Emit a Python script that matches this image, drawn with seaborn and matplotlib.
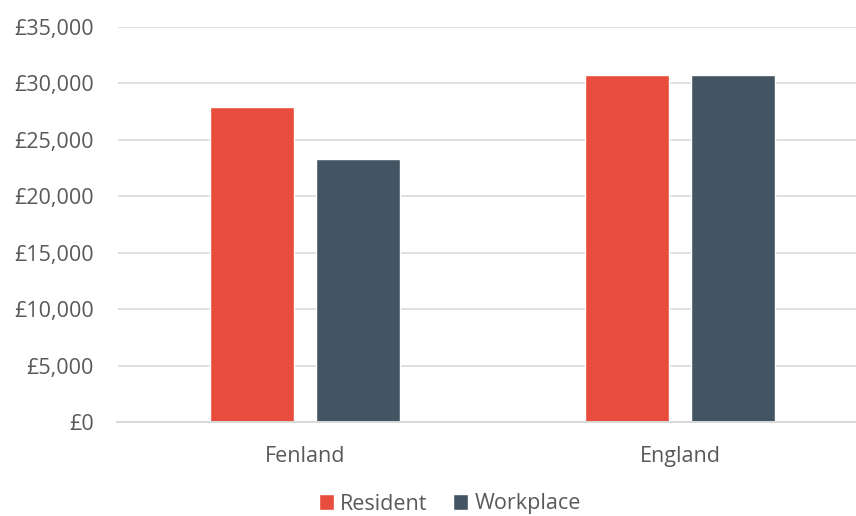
import matplotlib
matplotlib.use("Agg")
import matplotlib.pyplot as plt
import seaborn as sns
import pandas as pd
from matplotlib.ticker import FuncFormatter

categories = ["Fenland", "England"]
series = ["Resident", "Workplace"]
resident = [27930, 30710]
workplace = [23270, 30710]
colors = ["#E74C3D", "#435563"]

df = pd.DataFrame({
    "area": categories * 2,
    "type": [series[0]] * 2 + [series[1]] * 2,
    "value": resident + workplace,
})

sns.set_theme(style="white")
plt.rcParams["font.family"] = ["Open Sans", "DejaVu Sans"]

fig = plt.figure(figsize=(8.56, 5.16), dpi=100)
ax = fig.add_axes([117.5 / 856, (516 - 422.3) / 516, (856 - 117.5) / 856, (422.3 - 26.7) / 516])

sns.barplot(data=df, x="area", y="value", hue="type", order=categories,
            hue_order=series, palette=colors, width=0.568, gap=0.21,
            saturation=1, ax=ax, legend=True)

ax.set_ylim(0, 35000)
ax.set_xlim(-0.5, -0.5 + (856 - 117.5) / 375)
ax.set_yticks(range(0, 35001, 5000))
ax.yaxis.set_major_formatter(FuncFormatter(lambda v, p: f"£{int(v):,}"))
ax.grid(axis="y", color="#d9d9d9", linewidth=1.2)
ax.set_axisbelow(True)
for s in ["top", "right", "left"]:
    ax.spines[s].set_visible(False)
ax.spines["bottom"].set_color("#d9d9d9")
ax.spines["bottom"].set_linewidth(1.4)
ax.set_xlabel("")
ax.set_ylabel("")
ax.tick_params(axis="y", length=0, pad=17, labelsize=15.5, labelcolor="#595959")
ax.tick_params(axis="x", length=0, pad=17, labelsize=15.5, labelcolor="#595959")

leg = ax.legend(loc="center", bbox_to_anchor=(450 / 856, 1 - 504 / 516),
                bbox_transform=fig.transFigure, ncol=2, frameon=False,
                fontsize=15.5, handlelength=0.7, handleheight=0.7,
                handletextpad=0.3, columnspacing=1.2)
for t in leg.get_texts():
    t.set_color("#595959")

fig.savefig("out.png", dpi=100)
